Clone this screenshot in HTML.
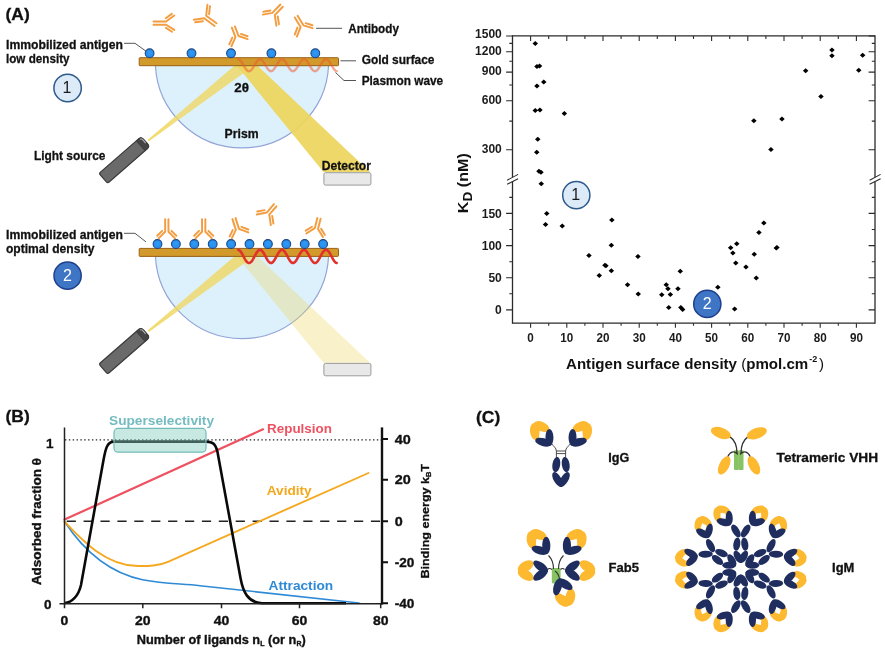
<!DOCTYPE html>
<html><head><meta charset="utf-8"><title>Figure</title>
<style>
html,body{margin:0;padding:0;background:#fff;}
svg{display:block;will-change:transform;font-family:'Liberation Sans', sans-serif;}
</style></head>
<body>
<svg width="885" height="653" viewBox="0 0 885 653">
<defs>
<linearGradient id="gInc" x1="0" y1="1" x2="1" y2="0">
<stop offset="0" stop-color="#F0D860" stop-opacity="0.95"/><stop offset="0.35" stop-color="#EFD868" stop-opacity="0.8"/><stop offset="1" stop-color="#EFD868" stop-opacity="0.85"/>
</linearGradient>
<radialGradient id="gBall" cx="0.5" cy="0.45" r="0.6"><stop offset="0" stop-color="#2F9BF5"/><stop offset="1" stop-color="#2488EA"/></radialGradient>
</defs>
<rect width="885" height="653" fill="#fff"/>
<g id="panelA">
<path d="M155.4,65.4 A86.7,86.7 0 0 0 328.6,65.4 Z" fill="#DDF1FC" stroke="#93A4D8" stroke-width="1.15"/>
<polygon points="147.6,139.9 234,66.0 253.5,66.0 148.9,141.3" fill="url(#gInc)"/>
<polygon points="237.2,66.0 257.8,66.0 370,172.0 323.5,172.0" fill="#EDD55C" opacity="0.92"/>
<rect x="139.2" y="57.7" width="199.3" height="8" rx="0.8" fill="#D19A2A" stroke="#9A6218" stroke-width="1"/>
<polyline points="238.3,59.22 238.8,59.36 239.3,59.61 239.8,59.98 240.3,60.46 240.8,61.03 241.3,61.69 241.8,62.42 242.3,63.21 242.8,64.04 243.3,64.89 243.8,65.75 244.3,66.60 244.8,67.42 245.3,68.19 245.8,68.91 246.3,69.54 246.8,70.09 247.3,70.54 247.8,70.87 248.3,71.09 248.8,71.19 249.3,71.17 249.8,71.03 250.3,70.76 250.9,70.38 251.4,69.90 251.9,69.31 252.4,68.65 252.9,67.91 253.4,67.12 253.9,66.29 254.4,65.43 254.9,64.57 255.4,63.73 255.9,62.91 256.4,62.14 256.9,61.43 257.4,60.81 257.9,60.27 258.4,59.83 258.9,59.50 259.4,59.29 259.9,59.20 260.4,59.24 260.9,59.39 261.4,59.67 261.9,60.06 262.4,60.55 262.9,61.14 263.4,61.82 263.9,62.56 264.4,63.36 264.9,64.19 265.4,65.05 265.9,65.90 266.4,66.75 266.9,67.56 267.4,68.33 267.9,69.03 268.4,69.65 268.9,70.18 269.4,70.60 269.9,70.92 270.4,71.12 270.9,71.20 271.4,71.15 271.9,70.99 272.4,70.70 272.9,70.30 273.4,69.80 273.9,69.20 274.4,68.52 274.9,67.77 275.5,66.97 276.0,66.13 276.5,65.28 277.0,64.42 277.5,63.58 278.0,62.77 278.5,62.01 279.0,61.32 279.5,60.70 280.0,60.18 280.5,59.76 281.0,59.46 281.5,59.27 282.0,59.20 282.5,59.26 283.0,59.43 283.5,59.73 284.0,60.14 284.5,60.65 285.0,61.26 285.5,61.94 286.0,62.70 286.5,63.50 287.0,64.34 287.5,65.20 288.0,66.06 288.5,66.90 289.0,67.70 289.5,68.46 290.0,69.14 290.5,69.75 291.0,70.26 291.5,70.67 292.0,70.97 292.5,71.14 293.0,71.20 293.5,71.13 294.0,70.94 294.5,70.64 295.0,70.22 295.5,69.70 296.0,69.08 296.5,68.39 297.0,67.63 297.5,66.82 298.0,65.98 298.5,65.12 299.0,64.27 299.5,63.43 300.1,62.63 300.6,61.88 301.1,61.20 301.6,60.60 302.1,60.10 302.6,59.70 303.1,59.41 303.6,59.25 304.1,59.20 304.6,59.28 305.1,59.48 305.6,59.80 306.1,60.22 306.6,60.75 307.1,61.37 307.6,62.07 308.1,62.84 308.6,63.65 309.1,64.50 309.6,65.35 310.1,66.21 310.6,67.04 311.1,67.84 311.6,68.58 312.1,69.26 312.6,69.85 313.1,70.34 313.6,70.73 314.1,71.01 314.6,71.16 315.1,71.20 315.6,71.11 316.1,70.90 316.6,70.57 317.1,70.13 317.6,69.59 318.1,68.97 318.6,68.26 319.1,67.49 319.6,66.67 320.1,65.83 320.6,64.97 321.1,64.11 321.6,63.28 322.1,62.49 322.6,61.75 323.1,61.09 323.6,60.50 324.1,60.02 324.7,59.64 325.2,59.37 325.7,59.23 326.2,59.21 326.7,59.31 327.2,59.53 327.7,59.86 328.2,60.31 328.7,60.86 329.2,61.49 329.7,62.21 330.2,62.98 330.7,63.80 331.2,64.65 331.7,65.51 332.2,66.36 332.7,67.19 333.2,67.98 333.7,68.71 334.2,69.37 334.7,69.94 335.2,70.42 335.7,70.79 336.2,71.04 336.7,71.18" fill="none" stroke="#EE582E" stroke-width="2.4" stroke-linecap="round" opacity="0.52"/>
<circle cx="149.6" cy="53.3" r="4.4" fill="url(#gBall)" stroke="#1B4482" stroke-width="1.05"/>
<circle cx="191.5" cy="53.3" r="4.4" fill="url(#gBall)" stroke="#1B4482" stroke-width="1.05"/>
<circle cx="231.0" cy="53.3" r="4.4" fill="url(#gBall)" stroke="#1B4482" stroke-width="1.05"/>
<circle cx="271.4" cy="53.3" r="4.4" fill="url(#gBall)" stroke="#1B4482" stroke-width="1.05"/>
<circle cx="315.3" cy="53.3" r="4.4" fill="url(#gBall)" stroke="#1B4482" stroke-width="1.05"/>
<g transform="translate(124.4,160.0) rotate(-41.1)"><path d="M-26,-6.6 H24.6 Q28,-6.6 28,-3.2 V3.2 Q28,6.6 24.6,6.6 H-26 Q-28,6.6 -28,4.6 V-4.6 Q-28,-6.6 -26,-6.6 Z" fill="#6A6A6A" stroke="#3A3A3A" stroke-width="1.2"/><path d="M21.5,-6.6 H24.6 Q28,-6.6 28,-3.2 V3.2 Q28,6.6 24.6,6.6 H21.5 Z" fill="#444" stroke="#3A3A3A" stroke-width="0.8"/><path d="M25.4,-5.4 Q27.2,-4.8 27.1,-2.6 V1.2" fill="none" stroke="#B0B0B0" stroke-width="1.1"/></g>
<rect x="323.9" y="172.7" width="47" height="12.4" rx="1.6" fill="#E8E8E8" stroke="#9A9A9A" stroke-width="1"/>
<path d="M124,43.3 H135 L146,51.2" fill="none" stroke="#444" stroke-width="0.9"/>
<text x="6.0" y="49.1" font-size="13" font-weight="bold" fill="#111" text-anchor="start" textLength="117.0" lengthAdjust="spacingAndGlyphs" stroke="#111" stroke-width="0.3">Immobilized antigen</text>
<text x="6.0" y="63.1" font-size="13" font-weight="bold" fill="#111" text-anchor="start" textLength="63.5" lengthAdjust="spacingAndGlyphs" stroke="#111" stroke-width="0.3">low density</text>
<path d="M155.4,256.1 A86.7,86.7 0 0 0 328.6,256.1 Z" fill="#DDF1FC" stroke="#93A4D8" stroke-width="1.15"/>
<polygon points="147.6,330.6 234,256.7 253.5,256.7 148.9,332.0" fill="url(#gInc)"/>
<polygon points="237.2,256.7 257.8,256.7 370,362.7 323.5,362.7" fill="#EDD55C" opacity="0.33"/>
<rect x="139.2" y="248.4" width="199.3" height="8" rx="0.8" fill="#D19A2A" stroke="#9A6218" stroke-width="1"/>
<polyline points="238.3,249.82 238.8,249.97 239.3,250.25 239.8,250.66 240.3,251.18 240.8,251.81 241.3,252.54 241.8,253.34 242.3,254.21 242.8,255.12 243.3,256.06 243.8,257.01 244.3,257.94 244.8,258.84 245.3,259.69 245.8,260.48 246.3,261.18 246.8,261.78 247.3,262.27 247.8,262.64 248.3,262.88 248.8,262.99 249.3,262.97 249.8,262.81 250.3,262.52 250.9,262.10 251.4,261.56 251.9,260.92 252.4,260.19 252.9,259.38 253.4,258.51 253.9,257.59 254.4,256.65 254.9,255.71 255.4,254.78 255.9,253.88 256.4,253.03 256.9,252.26 257.4,251.57 257.9,250.97 258.4,250.49 258.9,250.13 259.4,249.90 259.9,249.80 260.4,249.84 260.9,250.01 261.4,250.32 261.9,250.74 262.4,251.29 262.9,251.94 263.4,252.68 263.9,253.49 264.4,254.37 264.9,255.29 265.4,256.23 265.9,257.18 266.4,258.10 266.9,259.00 267.4,259.84 267.9,260.61 268.4,261.29 268.9,261.87 269.4,262.34 269.9,262.69 270.4,262.91 270.9,263.00 271.4,262.95 271.9,262.77 272.4,262.45 272.9,262.01 273.4,261.46 273.9,260.80 274.4,260.05 274.9,259.23 275.5,258.35 276.0,257.43 276.5,256.48 277.0,255.54 277.5,254.61 278.0,253.72 278.5,252.89 279.0,252.13 279.5,251.45 280.0,250.88 280.5,250.42 281.0,250.08 281.5,249.87 282.0,249.80 282.5,249.86 283.0,250.06 283.5,250.38 284.0,250.83 284.5,251.40 285.0,252.06 285.5,252.82 286.0,253.65 286.5,254.53 287.0,255.46 287.5,256.40 288.0,257.34 288.5,258.27 289.0,259.15 289.5,259.98 290.0,260.74 290.5,261.40 291.0,261.97 291.5,262.42 292.0,262.74 292.5,262.94 293.0,263.00 293.5,262.93 294.0,262.72 294.5,262.38 295.0,261.92 295.5,261.35 296.0,260.67 296.5,259.91 297.0,259.08 297.5,258.19 298.0,257.26 298.5,256.32 299.0,255.37 299.5,254.45 300.1,253.57 300.6,252.75 301.1,252.00 301.6,251.34 302.1,250.79 302.6,250.35 303.1,250.03 303.6,249.85 304.1,249.80 304.6,249.89 305.1,250.11 305.6,250.46 306.1,250.93 306.6,251.51 307.1,252.19 307.6,252.96 308.1,253.80 308.6,254.70 309.1,255.62 309.6,256.57 310.1,257.51 310.6,258.43 311.1,259.31 311.6,260.12 312.1,260.86 312.6,261.51 313.1,262.06 313.6,262.48 314.1,262.79 314.6,262.96 315.1,263.00 315.6,262.90 316.1,262.67 316.6,262.31 317.1,261.83 317.6,261.23 318.1,260.54 318.6,259.77 319.1,258.92 319.6,258.02 320.1,257.09 320.6,256.15 321.1,255.21 321.6,254.29 322.1,253.42 322.6,252.61 323.1,251.88 323.6,251.24 324.1,250.70 324.7,250.28 325.2,249.99 325.7,249.83 326.2,249.81 326.7,249.92 327.2,250.16 327.7,250.53 328.2,251.02 328.7,251.62 329.2,252.32 329.7,253.11 330.2,253.96 330.7,254.86 331.2,255.79 331.7,256.74 332.2,257.68 332.7,258.59 333.2,259.46 333.7,260.26 334.2,260.99 334.7,261.62 335.2,262.14 335.7,262.55 336.2,262.83 336.7,262.98" fill="none" stroke="#E2302A" stroke-width="2.6" stroke-linecap="round" opacity="1"/>
<circle cx="157.5" cy="244.0" r="4.4" fill="url(#gBall)" stroke="#1B4482" stroke-width="1.05"/>
<circle cx="175.9" cy="244.0" r="4.4" fill="url(#gBall)" stroke="#1B4482" stroke-width="1.05"/>
<circle cx="194.3" cy="244.0" r="4.4" fill="url(#gBall)" stroke="#1B4482" stroke-width="1.05"/>
<circle cx="212.7" cy="244.0" r="4.4" fill="url(#gBall)" stroke="#1B4482" stroke-width="1.05"/>
<circle cx="231.1" cy="244.0" r="4.4" fill="url(#gBall)" stroke="#1B4482" stroke-width="1.05"/>
<circle cx="249.5" cy="244.0" r="4.4" fill="url(#gBall)" stroke="#1B4482" stroke-width="1.05"/>
<circle cx="267.9" cy="244.0" r="4.4" fill="url(#gBall)" stroke="#1B4482" stroke-width="1.05"/>
<circle cx="286.3" cy="244.0" r="4.4" fill="url(#gBall)" stroke="#1B4482" stroke-width="1.05"/>
<circle cx="304.7" cy="244.0" r="4.4" fill="url(#gBall)" stroke="#1B4482" stroke-width="1.05"/>
<circle cx="323.1" cy="244.0" r="4.4" fill="url(#gBall)" stroke="#1B4482" stroke-width="1.05"/>
<g transform="translate(124.4,350.7) rotate(-41.1)"><path d="M-26,-6.6 H24.6 Q28,-6.6 28,-3.2 V3.2 Q28,6.6 24.6,6.6 H-26 Q-28,6.6 -28,4.6 V-4.6 Q-28,-6.6 -26,-6.6 Z" fill="#6A6A6A" stroke="#3A3A3A" stroke-width="1.2"/><path d="M21.5,-6.6 H24.6 Q28,-6.6 28,-3.2 V3.2 Q28,6.6 24.6,6.6 H21.5 Z" fill="#444" stroke="#3A3A3A" stroke-width="0.8"/><path d="M25.4,-5.4 Q27.2,-4.8 27.1,-2.6 V1.2" fill="none" stroke="#B0B0B0" stroke-width="1.1"/></g>
<rect x="323.9" y="363.4" width="47" height="12.4" rx="1.6" fill="#E8E8E8" stroke="#9A9A9A" stroke-width="1"/>
<path d="M124,233.3 H135 L146,241.9" fill="none" stroke="#444" stroke-width="0.9"/>
<text x="6.0" y="239.1" font-size="13" font-weight="bold" fill="#111" text-anchor="start" textLength="117.0" lengthAdjust="spacingAndGlyphs" stroke="#111" stroke-width="0.3">Immobilized antigen</text>
<text x="6.0" y="253.1" font-size="13" font-weight="bold" fill="#111" text-anchor="start" textLength="88.5" lengthAdjust="spacingAndGlyphs" stroke="#111" stroke-width="0.3">optimal density</text>
</g>
<text x="5.5" y="20.1" font-size="17" font-weight="bold" fill="#111" text-anchor="start" textLength="24.2" lengthAdjust="spacingAndGlyphs" stroke="#111" stroke-width="0.3">(A)</text>
<text x="348.2" y="33.3" font-size="13" font-weight="bold" fill="#111" text-anchor="start" textLength="50.7" lengthAdjust="spacingAndGlyphs" stroke="#111" stroke-width="0.3">Antibody</text>
<text x="361.7" y="64.3" font-size="13" font-weight="bold" fill="#111" text-anchor="start" textLength="72.8" lengthAdjust="spacingAndGlyphs" stroke="#111" stroke-width="0.3">Gold surface</text>
<text x="361.7" y="84.9" font-size="13" font-weight="bold" fill="#111" text-anchor="start" textLength="81.5" lengthAdjust="spacingAndGlyphs" stroke="#111" stroke-width="0.3">Plasmon wave</text>
<text x="234.3" y="92.3" font-size="13" font-weight="bold" fill="#111" text-anchor="start" textLength="14.7" lengthAdjust="spacingAndGlyphs" stroke="#111" stroke-width="0.3">2θ</text>
<text x="224.6" y="137.8" font-size="13" font-weight="bold" fill="#111" text-anchor="start" textLength="34.0" lengthAdjust="spacingAndGlyphs" stroke="#111" stroke-width="0.3">Prism</text>
<text x="33.9" y="160.1" font-size="13" font-weight="bold" fill="#111" text-anchor="start" textLength="71.5" lengthAdjust="spacingAndGlyphs" stroke="#111" stroke-width="0.3">Light source</text>
<text x="321.8" y="169.7" font-size="13" font-weight="bold" fill="#111" text-anchor="start" textLength="49.2" lengthAdjust="spacingAndGlyphs" stroke="#111" stroke-width="0.3">Detector</text>
<path d="M316,28.3 H342" stroke="#555" stroke-width="1" fill="none"/>
<path d="M340.5,60.8 H356" stroke="#555" stroke-width="1" fill="none"/>
<path d="M335.5,72.5 L344,80.5 H356" stroke="#555" stroke-width="1" fill="none"/>
<circle cx="67.6" cy="88" r="13.7" fill="#DDEAF7" stroke="#2C5A8B" stroke-width="1.5"/>
<text x="67.0" y="92.7" font-size="16" font-weight="normal" fill="#1b1b1b" text-anchor="middle" >1</text>
<circle cx="67.6" cy="275.7" r="13.6" fill="#3E75C5" stroke="#1F3F8C" stroke-width="1.5"/>
<text x="67.5" y="280.9" font-size="16" font-weight="normal" fill="#FFFFFF" text-anchor="middle" >2</text>
<path d="M153.50,21.45 L166.10,21.45 L174.28,15.47 M165.79,18.27 L171.84,13.84 M153.50,24.75 L166.10,24.75 L174.28,29.94 M165.94,27.90 L171.99,31.74" fill="none" stroke="#F39D40" stroke-width="1.95" stroke-linecap="round" stroke-linejoin="round"/>
<path d="M216.57,23.27 L206.17,15.67 L207.41,4.76 M209.10,14.23 L210.01,6.16 M214.63,25.93 L204.23,18.33 L193.84,19.74 M202.93,21.28 L195.25,22.32" fill="none" stroke="#F39D40" stroke-width="1.95" stroke-linecap="round" stroke-linejoin="round"/>
<path d="M231.86,27.58 L235.46,37.18 L231.41,46.33 M232.29,37.53 L229.30,44.30 M234.94,26.42 L238.54,36.02 L247.61,39.19 M240.90,33.93 L247.61,36.28" fill="none" stroke="#F39D40" stroke-width="1.95" stroke-linecap="round" stroke-linejoin="round"/>
<path d="M280.41,4.46 L272.41,12.86 L262.90,14.62 M270.38,10.44 L263.35,11.74 M282.79,6.74 L274.79,15.14 L276.38,25.70 M277.77,16.42 L278.94,24.23" fill="none" stroke="#F39D40" stroke-width="1.95" stroke-linecap="round" stroke-linejoin="round"/>
<path d="M297.61,15.75 L303.41,25.35 L312.56,28.16 M305.69,23.17 L312.46,25.25 M294.79,17.45 L300.59,27.05 L296.89,36.56 M297.43,27.58 L294.70,34.61" fill="none" stroke="#F39D40" stroke-width="1.95" stroke-linecap="round" stroke-linejoin="round"/>
<path d="M165.15,219.20 L165.15,231.70 L158.55,238.39 M162.14,230.84 L157.25,235.79 M168.45,219.20 L168.45,231.70 L175.05,238.39 M171.46,230.84 L176.35,235.79" fill="none" stroke="#F39D40" stroke-width="1.95" stroke-linecap="round" stroke-linejoin="round"/>
<path d="M202.05,219.20 L202.05,231.70 L195.45,238.39 M199.04,230.84 L194.15,235.79 M205.35,219.20 L205.35,231.70 L211.95,238.39 M208.36,230.84 L213.25,235.79" fill="none" stroke="#F39D40" stroke-width="1.95" stroke-linecap="round" stroke-linejoin="round"/>
<path d="M232.43,219.10 L235.83,229.90 L231.78,238.34 M232.70,230.06 L229.70,236.31 M235.57,218.10 L238.97,228.90 L248.30,232.42 M241.44,226.89 L248.34,229.50" fill="none" stroke="#F39D40" stroke-width="1.95" stroke-linecap="round" stroke-linejoin="round"/>
<path d="M273.95,204.13 L266.75,212.53 L256.72,214.46 M264.62,210.14 L257.20,211.57 M276.45,206.27 L269.25,214.67 L270.84,225.06 M272.22,215.92 L273.40,223.60" fill="none" stroke="#F39D40" stroke-width="1.95" stroke-linecap="round" stroke-linejoin="round"/>
<path d="M317.40,217.99 L314.80,228.19 L306.35,233.47 M311.99,226.71 L305.74,230.61 M320.60,218.81 L318.00,229.01 L322.93,237.10 M321.14,228.87 L324.78,234.86" fill="none" stroke="#F39D40" stroke-width="1.95" stroke-linecap="round" stroke-linejoin="round"/>
<g id="scatter">
<path d="M512.5,35.9 H875.0 M512.5,323.2 H875.0" stroke="#2B2B2B" stroke-width="1.3" fill="none"/>
<path d="M512.5,35.3 V177.2 M512.5,181.6 V323.8" stroke="#2B2B2B" stroke-width="1.3" fill="none"/>
<path d="M507.1,180.2 l11,-5.8 M507.1,184.3 l11,-5.6" stroke="#2B2B2B" stroke-width="1.05" fill="none"/>
<path d="M875.0,35.3 V177.2 M875.0,181.6 V323.8" stroke="#2B2B2B" stroke-width="1.3" fill="none"/>
<path d="M869.6,180.2 l11,-5.8 M869.6,184.3 l11,-5.6" stroke="#2B2B2B" stroke-width="1.05" fill="none"/>
<path d="M530.6,35.9 v5.0 M530.6,323.2 v4.6 M548.7,35.9 v3.0 M548.7,323.2 v2.6 M566.8,35.9 v5.0 M566.8,323.2 v4.6 M584.9,35.9 v3.0 M584.9,323.2 v2.6 M603.0,35.9 v5.0 M603.0,323.2 v4.6 M621.1,35.9 v3.0 M621.1,323.2 v2.6 M639.2,35.9 v5.0 M639.2,323.2 v4.6 M657.3,35.9 v3.0 M657.3,323.2 v2.6 M675.4,35.9 v5.0 M675.4,323.2 v4.6 M693.5,35.9 v3.0 M693.5,323.2 v2.6 M711.6,35.9 v5.0 M711.6,323.2 v4.6 M729.7,35.9 v3.0 M729.7,323.2 v2.6 M747.8,35.9 v5.0 M747.8,323.2 v4.6 M765.9,35.9 v3.0 M765.9,323.2 v2.6 M784.0,35.9 v5.0 M784.0,323.2 v4.6 M802.1,35.9 v3.0 M802.1,323.2 v2.6 M820.2,35.9 v5.0 M820.2,323.2 v4.6 M838.3,35.9 v3.0 M838.3,323.2 v2.6 M856.4,35.9 v5.0 M856.4,323.2 v4.6 M512.5,36.0 h-6.4 M875.0,36.0 h-6.4 M512.5,43.4 h-3.2 M875.0,43.4 h-3.2 M512.5,51.8 h-6.4 M875.0,51.8 h-6.4 M512.5,61.2 h-3.2 M875.0,61.2 h-3.2 M512.5,72.1 h-6.4 M875.0,72.1 h-6.4 M512.5,85.0 h-3.2 M875.0,85.0 h-3.2 M512.5,100.8 h-6.4 M875.0,100.8 h-6.4 M512.5,121.1 h-3.2 M875.0,121.1 h-3.2 M512.5,149.8 h-6.4 M875.0,149.8 h-6.4 M512.5,197.4 h-3.2 M875.0,197.4 h-3.2 M512.5,213.4 h-6.4 M875.0,213.4 h-6.4 M512.5,229.5 h-3.2 M875.0,229.5 h-3.2 M512.5,245.6 h-6.4 M875.0,245.6 h-6.4 M512.5,261.7 h-3.2 M875.0,261.7 h-3.2 M512.5,277.8 h-6.4 M875.0,277.8 h-6.4 M512.5,293.8 h-3.2 M875.0,293.8 h-3.2 M512.5,309.9 h-6.4 M875.0,309.9 h-6.4" stroke="#2B2B2B" stroke-width="1.1" fill="none"/>
<text x="501.8" y="37.9" font-size="12" font-weight="bold" fill="#1c1c1c" text-anchor="end" textLength="26.8" lengthAdjust="spacingAndGlyphs" >1500</text>
<text x="501.8" y="55.1" font-size="12" font-weight="bold" fill="#1c1c1c" text-anchor="end" textLength="26.8" lengthAdjust="spacingAndGlyphs" >1200</text>
<text x="501.8" y="75.4" font-size="12" font-weight="bold" fill="#1c1c1c" text-anchor="end" textLength="20.1" lengthAdjust="spacingAndGlyphs" >900</text>
<text x="501.8" y="104.1" font-size="12" font-weight="bold" fill="#1c1c1c" text-anchor="end" textLength="20.1" lengthAdjust="spacingAndGlyphs" >600</text>
<text x="501.8" y="153.1" font-size="12" font-weight="bold" fill="#1c1c1c" text-anchor="end" textLength="20.1" lengthAdjust="spacingAndGlyphs" >300</text>
<text x="501.8" y="217.9" font-size="12" font-weight="bold" fill="#1c1c1c" text-anchor="end" textLength="20.1" lengthAdjust="spacingAndGlyphs" >150</text>
<text x="501.8" y="250.1" font-size="12" font-weight="bold" fill="#1c1c1c" text-anchor="end" textLength="20.1" lengthAdjust="spacingAndGlyphs" >100</text>
<text x="501.8" y="282.2" font-size="12" font-weight="bold" fill="#1c1c1c" text-anchor="end" textLength="13.4" lengthAdjust="spacingAndGlyphs" >50</text>
<text x="501.8" y="314.4" font-size="12" font-weight="bold" fill="#1c1c1c" text-anchor="end" textLength="6.7" lengthAdjust="spacingAndGlyphs" >0</text>
<text x="530.6" y="342.1" font-size="12" font-weight="bold" fill="#1c1c1c" text-anchor="middle" textLength="6.5" lengthAdjust="spacingAndGlyphs" >0</text>
<text x="566.8" y="342.1" font-size="12" font-weight="bold" fill="#1c1c1c" text-anchor="middle" textLength="13.0" lengthAdjust="spacingAndGlyphs" >10</text>
<text x="603.0" y="342.1" font-size="12" font-weight="bold" fill="#1c1c1c" text-anchor="middle" textLength="13.0" lengthAdjust="spacingAndGlyphs" >20</text>
<text x="639.2" y="342.1" font-size="12" font-weight="bold" fill="#1c1c1c" text-anchor="middle" textLength="13.0" lengthAdjust="spacingAndGlyphs" >30</text>
<text x="675.4" y="342.1" font-size="12" font-weight="bold" fill="#1c1c1c" text-anchor="middle" textLength="13.0" lengthAdjust="spacingAndGlyphs" >40</text>
<text x="711.6" y="342.1" font-size="12" font-weight="bold" fill="#1c1c1c" text-anchor="middle" textLength="13.0" lengthAdjust="spacingAndGlyphs" >50</text>
<text x="747.8" y="342.1" font-size="12" font-weight="bold" fill="#1c1c1c" text-anchor="middle" textLength="13.0" lengthAdjust="spacingAndGlyphs" >60</text>
<text x="784.0" y="342.1" font-size="12" font-weight="bold" fill="#1c1c1c" text-anchor="middle" textLength="13.0" lengthAdjust="spacingAndGlyphs" >70</text>
<text x="820.2" y="342.1" font-size="12" font-weight="bold" fill="#1c1c1c" text-anchor="middle" textLength="13.0" lengthAdjust="spacingAndGlyphs" >80</text>
<text x="856.4" y="342.1" font-size="12" font-weight="bold" fill="#1c1c1c" text-anchor="middle" textLength="13.0" lengthAdjust="spacingAndGlyphs" >90</text>
<path d="M532.5,43.5 l2.75,-2.5 l2.75,2.5 l-2.75,2.5 z M534.2,66.4 l2.75,-2.5 l2.75,2.5 l-2.75,2.5 z M536.8,65.9 l2.75,-2.5 l2.75,2.5 l-2.75,2.5 z M534.2,86.0 l2.75,-2.5 l2.75,2.5 l-2.75,2.5 z M541.0,82.0 l2.75,-2.5 l2.75,2.5 l-2.75,2.5 z M532.5,110.6 l2.75,-2.5 l2.75,2.5 l-2.75,2.5 z M537.2,109.9 l2.75,-2.5 l2.75,2.5 l-2.75,2.5 z M561.6,113.6 l2.75,-2.5 l2.75,2.5 l-2.75,2.5 z M535.0,139.3 l2.75,-2.5 l2.75,2.5 l-2.75,2.5 z M534.0,152.2 l2.75,-2.5 l2.75,2.5 l-2.75,2.5 z M536.2,171.3 l2.75,-2.5 l2.75,2.5 l-2.75,2.5 z M538.2,172.3 l2.75,-2.5 l2.75,2.5 l-2.75,2.5 z M538.5,183.8 l2.75,-2.5 l2.75,2.5 l-2.75,2.5 z M751.1,120.7 l2.75,-2.5 l2.75,2.5 l-2.75,2.5 z M768.2,149.5 l2.75,-2.5 l2.75,2.5 l-2.75,2.5 z M779.2,118.9 l2.75,-2.5 l2.75,2.5 l-2.75,2.5 z M802.9,70.8 l2.75,-2.5 l2.75,2.5 l-2.75,2.5 z M818.2,96.5 l2.75,-2.5 l2.75,2.5 l-2.75,2.5 z M829.2,49.9 l2.75,-2.5 l2.75,2.5 l-2.75,2.5 z M829.2,55.8 l2.75,-2.5 l2.75,2.5 l-2.75,2.5 z M856.0,70.2 l2.75,-2.5 l2.75,2.5 l-2.75,2.5 z M859.9,55.2 l2.75,-2.5 l2.75,2.5 l-2.75,2.5 z M544.0,213.4 l2.75,-2.5 l2.75,2.5 l-2.75,2.5 z M542.8,224.6 l2.75,-2.5 l2.75,2.5 l-2.75,2.5 z M559.5,225.9 l2.75,-2.5 l2.75,2.5 l-2.75,2.5 z M609.1,220.1 l2.75,-2.5 l2.75,2.5 l-2.75,2.5 z M608.6,245.2 l2.75,-2.5 l2.75,2.5 l-2.75,2.5 z M586.2,255.4 l2.75,-2.5 l2.75,2.5 l-2.75,2.5 z M635.2,256.4 l2.75,-2.5 l2.75,2.5 l-2.75,2.5 z M602.2,265.2 l2.75,-2.5 l2.75,2.5 l-2.75,2.5 z M603.2,265.8 l2.75,-2.5 l2.75,2.5 l-2.75,2.5 z M608.6,270.8 l2.75,-2.5 l2.75,2.5 l-2.75,2.5 z M596.5,275.6 l2.75,-2.5 l2.75,2.5 l-2.75,2.5 z M624.8,284.8 l2.75,-2.5 l2.75,2.5 l-2.75,2.5 z M635.5,294.0 l2.75,-2.5 l2.75,2.5 l-2.75,2.5 z M663.5,284.7 l2.75,-2.5 l2.75,2.5 l-2.75,2.5 z M665.2,288.7 l2.75,-2.5 l2.75,2.5 l-2.75,2.5 z M667.6,294.5 l2.75,-2.5 l2.75,2.5 l-2.75,2.5 z M659.0,294.7 l2.75,-2.5 l2.75,2.5 l-2.75,2.5 z M666.0,307.4 l2.75,-2.5 l2.75,2.5 l-2.75,2.5 z M675.2,288.7 l2.75,-2.5 l2.75,2.5 l-2.75,2.5 z M677.5,271.3 l2.75,-2.5 l2.75,2.5 l-2.75,2.5 z M678.1,307.6 l2.75,-2.5 l2.75,2.5 l-2.75,2.5 z M679.9,309.4 l2.75,-2.5 l2.75,2.5 l-2.75,2.5 z M715.1,287.2 l2.75,-2.5 l2.75,2.5 l-2.75,2.5 z M731.9,308.9 l2.75,-2.5 l2.75,2.5 l-2.75,2.5 z M727.9,247.7 l2.75,-2.5 l2.75,2.5 l-2.75,2.5 z M734.0,243.7 l2.75,-2.5 l2.75,2.5 l-2.75,2.5 z M730.1,252.9 l2.75,-2.5 l2.75,2.5 l-2.75,2.5 z M733.0,262.9 l2.75,-2.5 l2.75,2.5 l-2.75,2.5 z M743.2,267.1 l2.75,-2.5 l2.75,2.5 l-2.75,2.5 z M751.5,254.2 l2.75,-2.5 l2.75,2.5 l-2.75,2.5 z M753.5,278.0 l2.75,-2.5 l2.75,2.5 l-2.75,2.5 z M756.2,232.6 l2.75,-2.5 l2.75,2.5 l-2.75,2.5 z M761.1,222.9 l2.75,-2.5 l2.75,2.5 l-2.75,2.5 z M773.5,247.9 l2.75,-2.5 l2.75,2.5 l-2.75,2.5 z M774.2,247.5 l2.75,-2.5 l2.75,2.5 l-2.75,2.5 z" fill="#000"/>
<circle cx="576.3" cy="195.2" r="13.6" fill="#DDEAF7" stroke="#2C5A8B" stroke-width="1.5"/>
<text x="575.8" y="200.1" font-size="16" font-weight="normal" fill="#1b1b1b" text-anchor="middle" >1</text>
<circle cx="707.3" cy="303.9" r="13.6" fill="#3E75C5" stroke="#1F3F8C" stroke-width="1.5"/>
<text x="707.2" y="309.1" font-size="16" font-weight="normal" fill="#FFFFFF" text-anchor="middle" >2</text>
<text transform="translate(467.6,183.2) rotate(-90)" text-anchor="middle" font-size="14.6" font-weight="bold" fill="#111" textLength="60" lengthAdjust="spacingAndGlyphs">K<tspan dy="4" font-size="12.5">D</tspan><tspan dy="-4"> (nM)</tspan></text>
<text x="566" y="368.5" font-size="14.2" font-weight="bold" fill="#111" textLength="258" lengthAdjust="spacingAndGlyphs">Antigen surface density <tspan font-weight="normal">(</tspan>pmol.cm<tspan dy="-6.4" font-size="8.5" dx="1">-2</tspan><tspan dy="6.4" font-weight="normal" dx="1.5">)</tspan></text>
</g>
<g id="panelB">
<text x="5.5" y="422.4" font-size="17" font-weight="bold" fill="#111" text-anchor="start" textLength="24.2" lengthAdjust="spacingAndGlyphs" stroke="#111" stroke-width="0.3">(B)</text>
<text x="109.0" y="425.3" font-size="13.2" font-weight="bold" fill="#74BCC0" text-anchor="start" textLength="105.0" lengthAdjust="spacingAndGlyphs" >Superselectivity</text>
<path d="M65,439.8 H381" stroke="#222" stroke-width="1.35" stroke-dasharray="1.4 2.45" fill="none"/>
<path d="M66.7,521.3 H381" stroke="#222" stroke-width="1.6" stroke-dasharray="9.2 7.7" fill="none"/>
<path d="M64.5,519.6 L263,429.3" stroke="#EE5261" stroke-width="2.2" fill="none" stroke-linecap="round"/>
<path d="M64.5,521.5 C80,545 105,572 142.5,579.7 C165,584 180,583.5 200,585.7 L359,603" stroke="#2F8AD6" stroke-width="1.6" fill="none" stroke-linecap="round"/>
<path d="M64.5,521.5 C80,538 105,566 138,566 C149,566 158,566 168,561.8 L368.5,473" stroke="#F5A81E" stroke-width="1.9" fill="none" stroke-linecap="round"/>
<path d="M64.5,603.2 C72,602.5 78.5,596 81,585 L103.5,460 C105.5,449 107,441.6 114,441.6 L206,441.6 C213,441.6 215.5,444 217.5,452 L240.5,578 C243,592 248,602.6 262,603.2 L346,603.2" stroke="#0A0A0A" stroke-width="2.6" fill="none" stroke-linejoin="round"/>
<rect x="114" y="428.4" width="92" height="23.8" rx="4" fill="#85CCBE" fill-opacity="0.45" stroke="#72BDBC" stroke-width="1.2"/>
<path d="M64.5,427.6 V603.8 H382" stroke="#222" stroke-width="1.5" fill="none"/>
<path d="M382,427.4 V604.6" stroke="#111" stroke-width="2.4" fill="none"/>
<path d="M382,438.9 h6 M382,479.8 h6 M382,521.3 h6 M382,562.3 h6 M382,603.3 h6" stroke="#111" stroke-width="2" fill="none"/>
<path d="M64.5,603.8 v4.5 M142.8,603.8 v4.5 M221.5,603.8 v4.5 M299.5,603.8 v4.5 M380.7,603.8 v4.5 M59.5,603.8 h5" stroke="#222" stroke-width="1.5" fill="none"/>
<text x="53.5" y="447.5" font-size="13.5" font-weight="bold" fill="#111" text-anchor="end" stroke="#111" stroke-width="0.35" stroke-linejoin="round">1</text>
<text x="51.5" y="609.4" font-size="13.5" font-weight="bold" fill="#111" text-anchor="end" stroke="#111" stroke-width="0.35" stroke-linejoin="round">0</text>
<text x="64.4" y="624.5" font-size="13.5" font-weight="bold" fill="#111" text-anchor="middle" textLength="7.8" lengthAdjust="spacingAndGlyphs" stroke="#111" stroke-width="0.35" stroke-linejoin="round">0</text>
<text x="142.8" y="624.5" font-size="13.5" font-weight="bold" fill="#111" text-anchor="middle" textLength="15.6" lengthAdjust="spacingAndGlyphs" stroke="#111" stroke-width="0.35" stroke-linejoin="round">20</text>
<text x="221.5" y="624.5" font-size="13.5" font-weight="bold" fill="#111" text-anchor="middle" textLength="15.6" lengthAdjust="spacingAndGlyphs" stroke="#111" stroke-width="0.35" stroke-linejoin="round">40</text>
<text x="299.5" y="624.5" font-size="13.5" font-weight="bold" fill="#111" text-anchor="middle" textLength="15.6" lengthAdjust="spacingAndGlyphs" stroke="#111" stroke-width="0.35" stroke-linejoin="round">60</text>
<text x="380.7" y="624.5" font-size="13.5" font-weight="bold" fill="#111" text-anchor="middle" textLength="15.6" lengthAdjust="spacingAndGlyphs" stroke="#111" stroke-width="0.35" stroke-linejoin="round">80</text>
<text x="394.8" y="443.5" font-size="12.8" font-weight="bold" fill="#111" text-anchor="start" textLength="16.0" lengthAdjust="spacingAndGlyphs" stroke="#111" stroke-width="0.35" stroke-linejoin="round">40</text>
<text x="394.8" y="484.4" font-size="12.8" font-weight="bold" fill="#111" text-anchor="start" textLength="16.0" lengthAdjust="spacingAndGlyphs" stroke="#111" stroke-width="0.35" stroke-linejoin="round">20</text>
<text x="394.8" y="525.9" font-size="12.8" font-weight="bold" fill="#111" text-anchor="start" textLength="8.0" lengthAdjust="spacingAndGlyphs" stroke="#111" stroke-width="0.35" stroke-linejoin="round">0</text>
<text x="394.8" y="566.9" font-size="12.8" font-weight="bold" fill="#111" text-anchor="start" textLength="19.6" lengthAdjust="spacingAndGlyphs" stroke="#111" stroke-width="0.35" stroke-linejoin="round">-20</text>
<text x="394.8" y="607.9" font-size="12.8" font-weight="bold" fill="#111" text-anchor="start" textLength="19.6" lengthAdjust="spacingAndGlyphs" stroke="#111" stroke-width="0.35" stroke-linejoin="round">-40</text>
<text x="267.0" y="432.9" font-size="13.2" font-weight="bold" fill="#EE5261" text-anchor="start" textLength="65.0" lengthAdjust="spacingAndGlyphs" >Repulsion</text>
<text x="266.7" y="495.1" font-size="13.2" font-weight="bold" fill="#F5A81E" text-anchor="start" textLength="45.0" lengthAdjust="spacingAndGlyphs" >Avidity</text>
<text x="268.6" y="589.5" font-size="13.2" font-weight="bold" fill="#2F8AD6" text-anchor="start" textLength="64.6" lengthAdjust="spacingAndGlyphs" >Attraction</text>
<text transform="translate(40.6,521.6) rotate(-90)" text-anchor="middle" font-size="12.8" font-weight="bold" fill="#111" stroke="#111" stroke-width="0.35" textLength="127" lengthAdjust="spacingAndGlyphs">Adsorbed fraction θ</text>
<text transform="translate(429.2,521.3) rotate(-90)" text-anchor="middle" font-size="11.8" font-weight="bold" fill="#111" stroke="#111" stroke-width="0.3" textLength="114.5" lengthAdjust="spacingAndGlyphs">Binding energy k<tspan dy="2.2" font-size="7">B</tspan><tspan dy="-2.2">T</tspan></text>
<text x="136.7" y="644" font-size="12.8" font-weight="bold" fill="#111" stroke="#111" stroke-width="0.35" textLength="169" lengthAdjust="spacingAndGlyphs">Number of ligands n<tspan dy="2.4" font-size="7">L</tspan><tspan dy="-2.4"> (or n</tspan><tspan dy="2.4" font-size="7">R</tspan><tspan dy="-2.4">)</tspan></text>
</g>
<g id="panelC">
<text x="476.0" y="422.8" font-size="17" font-weight="bold" fill="#111" text-anchor="start" textLength="24.2" lengthAdjust="spacingAndGlyphs" stroke="#111" stroke-width="0.3">(C)</text>
<text x="608.3" y="462.3" font-size="12.6" font-weight="bold" fill="#111" text-anchor="start" textLength="21.0" lengthAdjust="spacingAndGlyphs" stroke="#111" stroke-width="0.3">IgG</text>
<text x="776.6" y="462.4" font-size="12.6" font-weight="bold" fill="#111" text-anchor="start" textLength="101.4" lengthAdjust="spacingAndGlyphs" stroke="#111" stroke-width="0.3">Tetrameric VHH</text>
<text x="608.6" y="572.3" font-size="12.6" font-weight="bold" fill="#111" text-anchor="start" textLength="30.4" lengthAdjust="spacingAndGlyphs" stroke="#111" stroke-width="0.3">Fab5</text>
<text x="832.1" y="572.1" font-size="12.6" font-weight="bold" fill="#111" text-anchor="start" textLength="22.3" lengthAdjust="spacingAndGlyphs" stroke="#111" stroke-width="0.3">IgM</text>
<path d="M556.4,459 V451 C556.4,448 553.5,446.5 551.5,443.5 M565.6,459 V451 C565.6,448 568.5,446.5 570.5,443.5 M556.4,451 H565.6 M556.4,453.6 H565.6" stroke="#3a3a3a" stroke-width="0.9" fill="none"/>
<ellipse cx="556.3" cy="464.6" rx="3.9" ry="7.7" transform="rotate(9 556.3 464.6)" fill="#1F2E5F"/><ellipse cx="565.7" cy="464.6" rx="3.9" ry="7.7" transform="rotate(-9 565.7 464.6)" fill="#1F2E5F"/>
<g transform="translate(561.0,479.6)"><ellipse cx="-3.4" cy="0" rx="3.8" ry="8.4" transform="rotate(-31 -3.4 0)" fill="#1F2E5F"/><ellipse cx="3.4" cy="0" rx="3.8" ry="8.4" transform="rotate(31 3.4 0)" fill="#1F2E5F"/></g>
<g transform="translate(546.4,439.8) rotate(-38) scale(1.05)"><g transform="translate(0,-12.9) rotate(180)"><ellipse cx="-3.9" cy="0" rx="4.6" ry="8.0" transform="rotate(-30 -3.9 0)" fill="#FDB92F"/><ellipse cx="3.9" cy="0" rx="4.6" ry="8.0" transform="rotate(30 3.9 0)" fill="#FDB92F"/></g><ellipse cx="-3.7" cy="0" rx="3.8" ry="8.0" transform="rotate(-36 -3.7 0)" fill="#1F2E5F"/><ellipse cx="3.7" cy="0" rx="3.8" ry="8.0" transform="rotate(36 3.7 0)" fill="#1F2E5F"/><path d="M0,-10.3 L3.6,-6.3 L0,-2.5 L-3.6,-6.3 Z" fill="#fff"/></g>
<g transform="translate(575.6,439.8) rotate(38) scale(1.05)"><g transform="translate(0,-12.9) rotate(180)"><ellipse cx="-3.9" cy="0" rx="4.6" ry="8.0" transform="rotate(-30 -3.9 0)" fill="#FDB92F"/><ellipse cx="3.9" cy="0" rx="4.6" ry="8.0" transform="rotate(30 3.9 0)" fill="#FDB92F"/></g><ellipse cx="-3.7" cy="0" rx="3.8" ry="8.0" transform="rotate(-36 -3.7 0)" fill="#1F2E5F"/><ellipse cx="3.7" cy="0" rx="3.8" ry="8.0" transform="rotate(36 3.7 0)" fill="#1F2E5F"/><path d="M0,-10.3 L3.6,-6.3 L0,-2.5 L-3.6,-6.3 Z" fill="#fff"/></g>
<rect x="734" y="450.2" width="4.9" height="19.8" rx="1" fill="#88C363"/><rect x="738.6" y="450.2" width="4.9" height="19.8" rx="1" fill="#88C363"/>
<path d="M737,453 C737,443 732.5,438.5 729.5,436.4 M741,453 C741,443 745.5,438.5 748.5,436.4 M737.5,454 C734,450.5 730,451.5 727.9,456.6 M740.5,454 C744,450.5 748,451.5 750.1,456.6" stroke="#333" stroke-width="1.3" fill="none" stroke-linecap="round"/>
<ellipse cx="720.9" cy="433.0" rx="10.5" ry="5.3" transform="rotate(20 720.9 433.0)" fill="#FDB92F"/>
<ellipse cx="756.8" cy="433.3" rx="10.5" ry="5.3" transform="rotate(-20 756.8 433.3)" fill="#FDB92F"/>
<ellipse cx="724.2" cy="465.4" rx="5" ry="10" transform="rotate(27 724.2 465.4)" fill="#FDB92F"/>
<ellipse cx="753.9" cy="465.4" rx="5" ry="10" transform="rotate(-27 753.9 465.4)" fill="#FDB92F"/>
<rect x="551.8" y="568" width="8.8" height="15.4" rx="1.4" fill="#88C363"/>
<path d="M553.5,569 C553.5,562 551,558 548.5,555.5 M558.5,569 C558.5,562 561,558 563.5,555.5 M552,569.5 C550,568 548.5,568.5 547.5,569.5 M560.5,569.5 C562,568 563.5,568.5 564.5,569.5 M555,571 C558,573 559,576 559.5,579" stroke="#333" stroke-width="1.1" fill="none"/>
<g transform="translate(543.1,547.9) rotate(-37.385288057969) scale(1.08)"><g transform="translate(0,-12.3523515918674) rotate(180)"><ellipse cx="-3.9" cy="0" rx="4.6" ry="8.0" transform="rotate(-30 -3.9 0)" fill="#FDB92F"/><ellipse cx="3.9" cy="0" rx="4.6" ry="8.0" transform="rotate(30 3.9 0)" fill="#FDB92F"/></g><ellipse cx="-3.7" cy="0" rx="3.8" ry="8.0" transform="rotate(-36 -3.7 0)" fill="#1F2E5F"/><ellipse cx="3.7" cy="0" rx="3.8" ry="8.0" transform="rotate(36 3.7 0)" fill="#1F2E5F"/><path d="M0,-10.3 L3.6,-6.3 L0,-2.5 L-3.6,-6.3 Z" fill="#fff"/></g>
<g transform="translate(570.1,547.9) rotate(37.385288057969) scale(1.08)"><g transform="translate(0,-12.3523515918674) rotate(180)"><ellipse cx="-3.9" cy="0" rx="4.6" ry="8.0" transform="rotate(-30 -3.9 0)" fill="#FDB92F"/><ellipse cx="3.9" cy="0" rx="4.6" ry="8.0" transform="rotate(30 3.9 0)" fill="#FDB92F"/></g><ellipse cx="-3.7" cy="0" rx="3.8" ry="8.0" transform="rotate(-36 -3.7 0)" fill="#1F2E5F"/><ellipse cx="3.7" cy="0" rx="3.8" ry="8.0" transform="rotate(36 3.7 0)" fill="#1F2E5F"/><path d="M0,-10.3 L3.6,-6.3 L0,-2.5 L-3.6,-6.3 Z" fill="#fff"/></g>
<g transform="translate(540.6,570.6) rotate(-90.0) scale(1.08)"><g transform="translate(0,-13.888888888888888) rotate(180)"><ellipse cx="-3.9" cy="0" rx="4.6" ry="8.0" transform="rotate(-30 -3.9 0)" fill="#FDB92F"/><ellipse cx="3.9" cy="0" rx="4.6" ry="8.0" transform="rotate(30 3.9 0)" fill="#FDB92F"/></g><ellipse cx="-3.7" cy="0" rx="3.8" ry="8.0" transform="rotate(-36 -3.7 0)" fill="#1F2E5F"/><ellipse cx="3.7" cy="0" rx="3.8" ry="8.0" transform="rotate(36 3.7 0)" fill="#1F2E5F"/><path d="M0,-10.3 L3.6,-6.3 L0,-2.5 L-3.6,-6.3 Z" fill="#fff"/></g>
<g transform="translate(572.4,570.6) rotate(90.0) scale(1.08)"><g transform="translate(0,-13.888888888888888) rotate(180)"><ellipse cx="-3.9" cy="0" rx="4.6" ry="8.0" transform="rotate(-30 -3.9 0)" fill="#FDB92F"/><ellipse cx="3.9" cy="0" rx="4.6" ry="8.0" transform="rotate(30 3.9 0)" fill="#FDB92F"/></g><ellipse cx="-3.7" cy="0" rx="3.8" ry="8.0" transform="rotate(-36 -3.7 0)" fill="#1F2E5F"/><ellipse cx="3.7" cy="0" rx="3.8" ry="8.0" transform="rotate(36 3.7 0)" fill="#1F2E5F"/><path d="M0,-10.3 L3.6,-6.3 L0,-2.5 L-3.6,-6.3 Z" fill="#fff"/></g>
<g transform="translate(561.4,585.6) rotate(159.73430252905226) scale(1.08)"><g transform="translate(0,-12.831342371348175) rotate(180)"><ellipse cx="-3.9" cy="0" rx="4.6" ry="8.0" transform="rotate(-30 -3.9 0)" fill="#FDB92F"/><ellipse cx="3.9" cy="0" rx="4.6" ry="8.0" transform="rotate(30 3.9 0)" fill="#FDB92F"/></g><ellipse cx="-3.7" cy="0" rx="3.8" ry="8.0" transform="rotate(-36 -3.7 0)" fill="#1F2E5F"/><ellipse cx="3.7" cy="0" rx="3.8" ry="8.0" transform="rotate(36 3.7 0)" fill="#1F2E5F"/><path d="M0,-10.3 L3.6,-6.3 L0,-2.5 L-3.6,-6.3 Z" fill="#fff"/></g>
<g transform="translate(740.8,568.8) rotate(0)"><ellipse cx="-4.9" cy="-37.8" rx="3.5" ry="7.2" transform="rotate(-32 -4.9 -37.8)" fill="#1F2E5F"/><ellipse cx="-4.0" cy="-24.6" rx="3.5" ry="6.7" transform="rotate(8 -4.0 -24.6)" fill="#1F2E5F"/><g transform="translate(-14.3,-48.7) rotate(-38) scale(0.92)"><g transform="translate(0,-10.6) rotate(180)"><ellipse cx="-3.9" cy="0" rx="4.6" ry="8.0" transform="rotate(-30 -3.9 0)" fill="#FDB92F"/><ellipse cx="3.9" cy="0" rx="4.6" ry="8.0" transform="rotate(30 3.9 0)" fill="#FDB92F"/></g><ellipse cx="-3.7" cy="0" rx="3.9" ry="8.0" transform="rotate(-36 -3.7 0)" fill="#1F2E5F"/><ellipse cx="3.7" cy="0" rx="3.9" ry="8.0" transform="rotate(36 3.7 0)" fill="#1F2E5F"/><path d="M0,-10.3 L3.6,-6.3 L0,-2.5 L-3.6,-6.3 Z" fill="#fff"/></g><ellipse cx="4.9" cy="-37.8" rx="3.5" ry="7.2" transform="rotate(32 4.9 -37.8)" fill="#1F2E5F"/><ellipse cx="4.0" cy="-24.6" rx="3.5" ry="6.7" transform="rotate(-8 4.0 -24.6)" fill="#1F2E5F"/><g transform="translate(14.3,-48.7) rotate(38) scale(0.92)"><g transform="translate(0,-10.6) rotate(180)"><ellipse cx="-3.9" cy="0" rx="4.6" ry="8.0" transform="rotate(-30 -3.9 0)" fill="#FDB92F"/><ellipse cx="3.9" cy="0" rx="4.6" ry="8.0" transform="rotate(30 3.9 0)" fill="#FDB92F"/></g><ellipse cx="-3.7" cy="0" rx="3.9" ry="8.0" transform="rotate(-36 -3.7 0)" fill="#1F2E5F"/><ellipse cx="3.7" cy="0" rx="3.9" ry="8.0" transform="rotate(36 3.7 0)" fill="#1F2E5F"/><path d="M0,-10.3 L3.6,-6.3 L0,-2.5 L-3.6,-6.3 Z" fill="#fff"/></g><g transform="translate(0,-11.9) scale(0.82)"><ellipse cx="-3.3" cy="0" rx="4.3" ry="8.3" transform="rotate(-30 -3.3 0)" fill="#1F2E5F"/><ellipse cx="3.3" cy="0" rx="4.3" ry="8.3" transform="rotate(30 3.3 0)" fill="#1F2E5F"/></g></g>
<g transform="translate(740.8,568.8) rotate(60)"><ellipse cx="-4.9" cy="-37.8" rx="3.5" ry="7.2" transform="rotate(-32 -4.9 -37.8)" fill="#1F2E5F"/><ellipse cx="-4.0" cy="-24.6" rx="3.5" ry="6.7" transform="rotate(8 -4.0 -24.6)" fill="#1F2E5F"/><g transform="translate(-14.3,-48.7) rotate(-38) scale(0.92)"><g transform="translate(0,-10.6) rotate(180)"><ellipse cx="-3.9" cy="0" rx="4.6" ry="8.0" transform="rotate(-30 -3.9 0)" fill="#FDB92F"/><ellipse cx="3.9" cy="0" rx="4.6" ry="8.0" transform="rotate(30 3.9 0)" fill="#FDB92F"/></g><ellipse cx="-3.7" cy="0" rx="3.9" ry="8.0" transform="rotate(-36 -3.7 0)" fill="#1F2E5F"/><ellipse cx="3.7" cy="0" rx="3.9" ry="8.0" transform="rotate(36 3.7 0)" fill="#1F2E5F"/><path d="M0,-10.3 L3.6,-6.3 L0,-2.5 L-3.6,-6.3 Z" fill="#fff"/></g><ellipse cx="4.9" cy="-37.8" rx="3.5" ry="7.2" transform="rotate(32 4.9 -37.8)" fill="#1F2E5F"/><ellipse cx="4.0" cy="-24.6" rx="3.5" ry="6.7" transform="rotate(-8 4.0 -24.6)" fill="#1F2E5F"/><g transform="translate(14.3,-48.7) rotate(38) scale(0.92)"><g transform="translate(0,-10.6) rotate(180)"><ellipse cx="-3.9" cy="0" rx="4.6" ry="8.0" transform="rotate(-30 -3.9 0)" fill="#FDB92F"/><ellipse cx="3.9" cy="0" rx="4.6" ry="8.0" transform="rotate(30 3.9 0)" fill="#FDB92F"/></g><ellipse cx="-3.7" cy="0" rx="3.9" ry="8.0" transform="rotate(-36 -3.7 0)" fill="#1F2E5F"/><ellipse cx="3.7" cy="0" rx="3.9" ry="8.0" transform="rotate(36 3.7 0)" fill="#1F2E5F"/><path d="M0,-10.3 L3.6,-6.3 L0,-2.5 L-3.6,-6.3 Z" fill="#fff"/></g><g transform="translate(0,-11.9) scale(0.82)"><ellipse cx="-3.3" cy="0" rx="4.3" ry="8.3" transform="rotate(-30 -3.3 0)" fill="#1F2E5F"/><ellipse cx="3.3" cy="0" rx="4.3" ry="8.3" transform="rotate(30 3.3 0)" fill="#1F2E5F"/></g></g>
<g transform="translate(740.8,568.8) rotate(120)"><ellipse cx="-4.9" cy="-37.8" rx="3.5" ry="7.2" transform="rotate(-32 -4.9 -37.8)" fill="#1F2E5F"/><ellipse cx="-4.0" cy="-24.6" rx="3.5" ry="6.7" transform="rotate(8 -4.0 -24.6)" fill="#1F2E5F"/><g transform="translate(-14.3,-48.7) rotate(-38) scale(0.92)"><g transform="translate(0,-10.6) rotate(180)"><ellipse cx="-3.9" cy="0" rx="4.6" ry="8.0" transform="rotate(-30 -3.9 0)" fill="#FDB92F"/><ellipse cx="3.9" cy="0" rx="4.6" ry="8.0" transform="rotate(30 3.9 0)" fill="#FDB92F"/></g><ellipse cx="-3.7" cy="0" rx="3.9" ry="8.0" transform="rotate(-36 -3.7 0)" fill="#1F2E5F"/><ellipse cx="3.7" cy="0" rx="3.9" ry="8.0" transform="rotate(36 3.7 0)" fill="#1F2E5F"/><path d="M0,-10.3 L3.6,-6.3 L0,-2.5 L-3.6,-6.3 Z" fill="#fff"/></g><ellipse cx="4.9" cy="-37.8" rx="3.5" ry="7.2" transform="rotate(32 4.9 -37.8)" fill="#1F2E5F"/><ellipse cx="4.0" cy="-24.6" rx="3.5" ry="6.7" transform="rotate(-8 4.0 -24.6)" fill="#1F2E5F"/><g transform="translate(14.3,-48.7) rotate(38) scale(0.92)"><g transform="translate(0,-10.6) rotate(180)"><ellipse cx="-3.9" cy="0" rx="4.6" ry="8.0" transform="rotate(-30 -3.9 0)" fill="#FDB92F"/><ellipse cx="3.9" cy="0" rx="4.6" ry="8.0" transform="rotate(30 3.9 0)" fill="#FDB92F"/></g><ellipse cx="-3.7" cy="0" rx="3.9" ry="8.0" transform="rotate(-36 -3.7 0)" fill="#1F2E5F"/><ellipse cx="3.7" cy="0" rx="3.9" ry="8.0" transform="rotate(36 3.7 0)" fill="#1F2E5F"/><path d="M0,-10.3 L3.6,-6.3 L0,-2.5 L-3.6,-6.3 Z" fill="#fff"/></g><g transform="translate(0,-11.9) scale(0.82)"><ellipse cx="-3.3" cy="0" rx="4.3" ry="8.3" transform="rotate(-30 -3.3 0)" fill="#1F2E5F"/><ellipse cx="3.3" cy="0" rx="4.3" ry="8.3" transform="rotate(30 3.3 0)" fill="#1F2E5F"/></g></g>
<g transform="translate(740.8,568.8) rotate(180)"><ellipse cx="-4.9" cy="-37.8" rx="3.5" ry="7.2" transform="rotate(-32 -4.9 -37.8)" fill="#1F2E5F"/><ellipse cx="-4.0" cy="-24.6" rx="3.5" ry="6.7" transform="rotate(8 -4.0 -24.6)" fill="#1F2E5F"/><g transform="translate(-14.3,-48.7) rotate(-38) scale(0.92)"><g transform="translate(0,-10.6) rotate(180)"><ellipse cx="-3.9" cy="0" rx="4.6" ry="8.0" transform="rotate(-30 -3.9 0)" fill="#FDB92F"/><ellipse cx="3.9" cy="0" rx="4.6" ry="8.0" transform="rotate(30 3.9 0)" fill="#FDB92F"/></g><ellipse cx="-3.7" cy="0" rx="3.9" ry="8.0" transform="rotate(-36 -3.7 0)" fill="#1F2E5F"/><ellipse cx="3.7" cy="0" rx="3.9" ry="8.0" transform="rotate(36 3.7 0)" fill="#1F2E5F"/><path d="M0,-10.3 L3.6,-6.3 L0,-2.5 L-3.6,-6.3 Z" fill="#fff"/></g><ellipse cx="4.9" cy="-37.8" rx="3.5" ry="7.2" transform="rotate(32 4.9 -37.8)" fill="#1F2E5F"/><ellipse cx="4.0" cy="-24.6" rx="3.5" ry="6.7" transform="rotate(-8 4.0 -24.6)" fill="#1F2E5F"/><g transform="translate(14.3,-48.7) rotate(38) scale(0.92)"><g transform="translate(0,-10.6) rotate(180)"><ellipse cx="-3.9" cy="0" rx="4.6" ry="8.0" transform="rotate(-30 -3.9 0)" fill="#FDB92F"/><ellipse cx="3.9" cy="0" rx="4.6" ry="8.0" transform="rotate(30 3.9 0)" fill="#FDB92F"/></g><ellipse cx="-3.7" cy="0" rx="3.9" ry="8.0" transform="rotate(-36 -3.7 0)" fill="#1F2E5F"/><ellipse cx="3.7" cy="0" rx="3.9" ry="8.0" transform="rotate(36 3.7 0)" fill="#1F2E5F"/><path d="M0,-10.3 L3.6,-6.3 L0,-2.5 L-3.6,-6.3 Z" fill="#fff"/></g><g transform="translate(0,-11.9) scale(0.82)"><ellipse cx="-3.3" cy="0" rx="4.3" ry="8.3" transform="rotate(-30 -3.3 0)" fill="#1F2E5F"/><ellipse cx="3.3" cy="0" rx="4.3" ry="8.3" transform="rotate(30 3.3 0)" fill="#1F2E5F"/></g></g>
<g transform="translate(740.8,568.8) rotate(240)"><ellipse cx="-4.9" cy="-37.8" rx="3.5" ry="7.2" transform="rotate(-32 -4.9 -37.8)" fill="#1F2E5F"/><ellipse cx="-4.0" cy="-24.6" rx="3.5" ry="6.7" transform="rotate(8 -4.0 -24.6)" fill="#1F2E5F"/><g transform="translate(-14.3,-48.7) rotate(-38) scale(0.92)"><g transform="translate(0,-10.6) rotate(180)"><ellipse cx="-3.9" cy="0" rx="4.6" ry="8.0" transform="rotate(-30 -3.9 0)" fill="#FDB92F"/><ellipse cx="3.9" cy="0" rx="4.6" ry="8.0" transform="rotate(30 3.9 0)" fill="#FDB92F"/></g><ellipse cx="-3.7" cy="0" rx="3.9" ry="8.0" transform="rotate(-36 -3.7 0)" fill="#1F2E5F"/><ellipse cx="3.7" cy="0" rx="3.9" ry="8.0" transform="rotate(36 3.7 0)" fill="#1F2E5F"/><path d="M0,-10.3 L3.6,-6.3 L0,-2.5 L-3.6,-6.3 Z" fill="#fff"/></g><ellipse cx="4.9" cy="-37.8" rx="3.5" ry="7.2" transform="rotate(32 4.9 -37.8)" fill="#1F2E5F"/><ellipse cx="4.0" cy="-24.6" rx="3.5" ry="6.7" transform="rotate(-8 4.0 -24.6)" fill="#1F2E5F"/><g transform="translate(14.3,-48.7) rotate(38) scale(0.92)"><g transform="translate(0,-10.6) rotate(180)"><ellipse cx="-3.9" cy="0" rx="4.6" ry="8.0" transform="rotate(-30 -3.9 0)" fill="#FDB92F"/><ellipse cx="3.9" cy="0" rx="4.6" ry="8.0" transform="rotate(30 3.9 0)" fill="#FDB92F"/></g><ellipse cx="-3.7" cy="0" rx="3.9" ry="8.0" transform="rotate(-36 -3.7 0)" fill="#1F2E5F"/><ellipse cx="3.7" cy="0" rx="3.9" ry="8.0" transform="rotate(36 3.7 0)" fill="#1F2E5F"/><path d="M0,-10.3 L3.6,-6.3 L0,-2.5 L-3.6,-6.3 Z" fill="#fff"/></g><g transform="translate(0,-11.9) scale(0.82)"><ellipse cx="-3.3" cy="0" rx="4.3" ry="8.3" transform="rotate(-30 -3.3 0)" fill="#1F2E5F"/><ellipse cx="3.3" cy="0" rx="4.3" ry="8.3" transform="rotate(30 3.3 0)" fill="#1F2E5F"/></g></g>
<g transform="translate(740.8,568.8) rotate(300)"><ellipse cx="-4.9" cy="-37.8" rx="3.5" ry="7.2" transform="rotate(-32 -4.9 -37.8)" fill="#1F2E5F"/><ellipse cx="-4.0" cy="-24.6" rx="3.5" ry="6.7" transform="rotate(8 -4.0 -24.6)" fill="#1F2E5F"/><g transform="translate(-14.3,-48.7) rotate(-38) scale(0.92)"><g transform="translate(0,-10.6) rotate(180)"><ellipse cx="-3.9" cy="0" rx="4.6" ry="8.0" transform="rotate(-30 -3.9 0)" fill="#FDB92F"/><ellipse cx="3.9" cy="0" rx="4.6" ry="8.0" transform="rotate(30 3.9 0)" fill="#FDB92F"/></g><ellipse cx="-3.7" cy="0" rx="3.9" ry="8.0" transform="rotate(-36 -3.7 0)" fill="#1F2E5F"/><ellipse cx="3.7" cy="0" rx="3.9" ry="8.0" transform="rotate(36 3.7 0)" fill="#1F2E5F"/><path d="M0,-10.3 L3.6,-6.3 L0,-2.5 L-3.6,-6.3 Z" fill="#fff"/></g><ellipse cx="4.9" cy="-37.8" rx="3.5" ry="7.2" transform="rotate(32 4.9 -37.8)" fill="#1F2E5F"/><ellipse cx="4.0" cy="-24.6" rx="3.5" ry="6.7" transform="rotate(-8 4.0 -24.6)" fill="#1F2E5F"/><g transform="translate(14.3,-48.7) rotate(38) scale(0.92)"><g transform="translate(0,-10.6) rotate(180)"><ellipse cx="-3.9" cy="0" rx="4.6" ry="8.0" transform="rotate(-30 -3.9 0)" fill="#FDB92F"/><ellipse cx="3.9" cy="0" rx="4.6" ry="8.0" transform="rotate(30 3.9 0)" fill="#FDB92F"/></g><ellipse cx="-3.7" cy="0" rx="3.9" ry="8.0" transform="rotate(-36 -3.7 0)" fill="#1F2E5F"/><ellipse cx="3.7" cy="0" rx="3.9" ry="8.0" transform="rotate(36 3.7 0)" fill="#1F2E5F"/><path d="M0,-10.3 L3.6,-6.3 L0,-2.5 L-3.6,-6.3 Z" fill="#fff"/></g><g transform="translate(0,-11.9) scale(0.82)"><ellipse cx="-3.3" cy="0" rx="4.3" ry="8.3" transform="rotate(-30 -3.3 0)" fill="#1F2E5F"/><ellipse cx="3.3" cy="0" rx="4.3" ry="8.3" transform="rotate(30 3.3 0)" fill="#1F2E5F"/></g></g>
</g>
</svg>
</body></html>
